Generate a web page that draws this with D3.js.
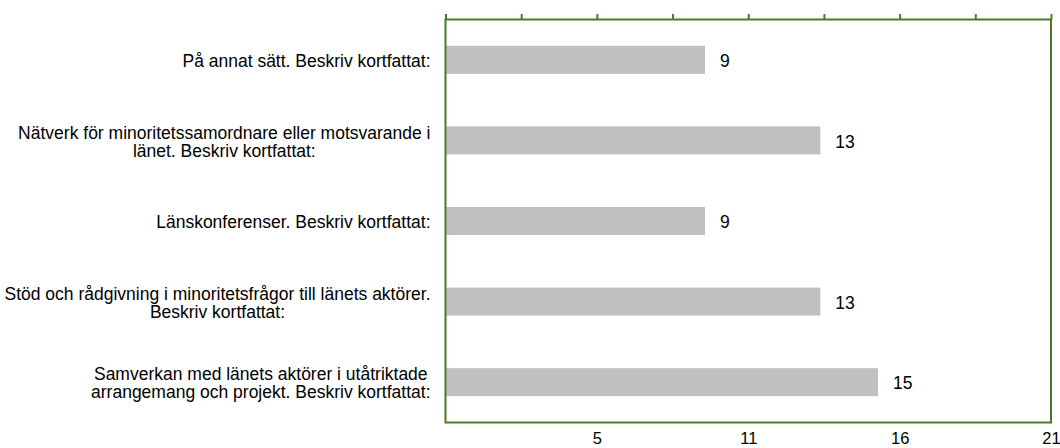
<!DOCTYPE html>
<html>
<head>
<meta charset="utf-8">
<script src="https://cdn.jsdelivr.net/npm/d3@7"></script>
<style>
  body { margin: 0; background: #fff; }
  text { font-family: "Liberation Sans", Arial, sans-serif; fill: #000; }
</style>
</head>
<body>
<div class="chart"></div>
<script>
var width = 1060;
var height = 448;

// categories, one array of lines per bar
var categories = [
  ["På annat sätt. Beskriv kortfattat:"],
  ["Nätverk för minoritetssamordnare eller motsvarande i", "länet. Beskriv kortfattat:"],
  ["Länskonferenser. Beskriv kortfattat:"],
  ["Stöd och rådgivning i minoritetsfrågor till länets aktörer.", "Beskriv kortfattat:"],
  ["Samverkan med länets aktörer i utåtriktade", "arrangemang och projekt. Beskriv kortfattat:"]
];
var values = [9, 13, 9, 13, 15];

var axisMax = 21;
var gridTicks = [0, 2.625, 5.25, 7.875, 10.5, 13.125, 15.75, 18.375, 21];
var labelTicks = [5.25, 10.5, 15.75, 21];
var tickLabels = ["5", "11", "16", "21"];

var margin = { top: 19.5, right: 9, bottom: 25.5, left: 445.5 };
var plotW = width - margin.left - margin.right;
var plotH = height - margin.top - margin.bottom;

var frameColour = "#4a7a2a";
var barColour = "#c0c0c0";
var fontSize = "17.5px";

var svg = d3.select(".chart")
  .append("svg")
  .attr("width", width)
  .attr("height", height);

var g = svg.append("g")
  .attr("transform", "translate(" + margin.left + "," + margin.top + ")");

var xScale = d3.scaleLinear().domain([0, axisMax]).range([0, plotW]);
var yScale = d3.scaleBand()
  .domain(d3.range(values.length))
  .range([0, plotH]);

var barH = 28;

// bars
g.selectAll("rect.bar")
  .data(values)
  .enter()
  .append("rect")
  .attr("class", "bar")
  .attr("x", 0)
  .attr("y", function (d, i) { return yScale(i) + yScale.bandwidth() / 2 - barH / 2; })
  .attr("width", function (d) { return xScale(d); })
  .attr("height", barH)
  .style("fill", barColour);

// value labels
g.selectAll("text.value")
  .data(values)
  .enter()
  .append("text")
  .attr("class", "value")
  .attr("x", function (d) { return xScale(d) + 15; })
  .attr("y", function (d, i) { return yScale(i) + yScale.bandwidth() / 2 + 1; })
  .attr("dy", "0.35em")
  .style("font-size", fontSize)
  .text(function (d) { return d; });

// frame
g.append("rect")
  .attr("x", 0)
  .attr("y", 0)
  .attr("width", plotW)
  .attr("height", plotH)
  .style("fill", "none")
  .style("stroke", frameColour)
  .style("stroke-width", 2);

// top ticks
var topAxis = d3.axisTop(xScale).tickValues(gridTicks).tickSize(5.5).tickFormat("");
var topG = g.append("g").call(topAxis);
topG.select(".domain").remove();
topG.selectAll("line").style("stroke", frameColour).style("stroke-width", 2);

// bottom labels
var bottomAxis = d3.axisBottom(xScale)
  .tickValues(labelTicks)
  .tickSize(0)
  .tickPadding(10)
  .tickFormat(function (d, i) { return tickLabels[i]; });
var bottomG = g.append("g")
  .attr("transform", "translate(0," + plotH + ")")
  .call(bottomAxis);
bottomG.select(".domain").remove();
bottomG.selectAll("text")
  .style("font-size", "16.5px")
  .style("font-family", "'Liberation Sans', Arial, sans-serif")
  .style("fill", "#000");

// category labels (block right aligned, lines centred)
var lineH = 18;
var catG = g.selectAll("g.cat")
  .data(categories)
  .enter()
  .append("g")
  .attr("class", "cat");

catG.each(function (lines, i) {
  var grp = d3.select(this);
  var cy = yScale(i) + yScale.bandwidth() / 2 + 1;
  var t = grp.append("text")
    .style("font-size", fontSize)
    .attr("text-anchor", "middle");
  lines.forEach(function (ln, j) {
    t.append("tspan")
      .attr("x", 0)
      .attr("y", cy + (j - (lines.length - 1) / 2) * lineH)
      .attr("dy", "0.35em")
      .text(ln);
  });
  var w = t.node().getBBox().width;
  t.attr("transform", "translate(" + (-15 - w / 2) + ",0)");
});
</script>
</body>
</html>
